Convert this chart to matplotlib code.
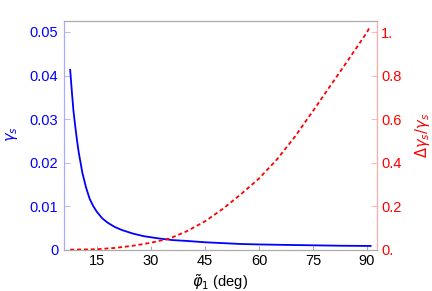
import matplotlib
matplotlib.use("Agg")
import matplotlib.pyplot as plt

plt.rcParams['font.family'] = ['Liberation Sans', 'DejaVu Sans']
plt.rcParams['mathtext.fontset'] = 'dejavusans'

# gamma_s vs phi (deg)
phi_gamma = [7.6, 8.1, 8.5, 9.0, 9.5, 10.0, 11.0, 12.0, 13.0, 14.0, 15.0, 16.5,
             18.0, 20.0, 22.0, 25.0, 28.0, 32.0, 36.0, 40.0, 45.0, 50.0, 55.0,
             60.0, 67.0, 75.0, 83.0, 91.0]
gamma_s = [0.0413, 0.0360, 0.0320, 0.0284, 0.0251, 0.0222, 0.0176, 0.0143,
           0.0117, 0.0100, 0.0087, 0.0072, 0.0062, 0.0052, 0.0045, 0.0037,
           0.0031, 0.0026, 0.0022, 0.0020, 0.0017, 0.0015, 0.0013, 0.0012,
           0.0011, 0.0010, 0.0009, 0.00085]

# relative change Delta gamma_s / gamma_s
phi_rel = [7.6, 15.0, 20.0, 25.0, 28.0, 30.0, 35.0, 40.0, 45.0, 50.0, 55.0,
           60.0, 65.0, 70.0, 75.0, 80.0, 85.0, 90.0, 90.8]
rel_change = [0.0, 0.002, 0.008, 0.018, 0.026, 0.032, 0.050, 0.085, 0.130,
              0.188, 0.255, 0.327, 0.415, 0.520, 0.638, 0.758, 0.878, 1.000,
              1.025]

x_ticks = [15, 30, 45, 60, 75, 90]
left_ticks = [0, 0.01, 0.02, 0.03, 0.04, 0.05]
left_labels = ["0", "0.01", "0.02", "0.03", "0.04", "0.05"]
right_ticks = [0, 0.2, 0.4, 0.6, 0.8, 1.0]
right_labels = ["0.", "0.2", "0.4", "0.6", "0.8", "1."]

fig = plt.figure(figsize=(4.32, 2.91), dpi=100)
ax = fig.add_axes([0.148, 0.141, 0.725, 0.788])
ax2 = ax.twinx()

ax.plot(phi_gamma, gamma_s, color='#0000ff', lw=1.3)
ax2.plot(phi_rel, rel_change, color='#ff0000', lw=1.3, linestyle=(0, (2.2, 1.6)))

ax.set_xlim(5.87, 92.8)
ax.set_ylim(-0.00007, 0.0526)
ax2.set_ylim(-0.0014, 1.053)

ax.set_xticks(x_ticks)
ax.set_yticks(left_ticks)
ax.set_yticklabels(left_labels)
ax2.set_yticks(right_ticks)
ax2.set_yticklabels(right_labels)

fs = 10.5
ax.tick_params(axis='x', direction='in', length=3, width=0.6, color='#999999',
               labelsize=fs, labelcolor='black', pad=3)
ax.tick_params(axis='y', direction='in', length=4, width=0.6, color='#aaaaff',
               labelsize=fs, labelcolor='#0000ff', pad=4)
ax2.tick_params(axis='y', direction='in', length=4, width=0.6, color='#ffaaaa',
                labelsize=fs, labelcolor='#ff0000', pad=3)

for a in (ax, ax2):
    a.spines['top'].set_color('#aaaaaa')
    a.spines['bottom'].set_color('#aaaaaa')
    a.spines['left'].set_color('#aaaaff')
    a.spines['right'].set_color('#ffaaaa')
    for s in a.spines.values():
        s.set_linewidth(0.8)

ax.set_xlabel(r'$\tilde{\varphi}_1$ (deg)', fontsize=fs, labelpad=3)
ax.set_ylabel(r'$\gamma_s$', fontsize=fs, color='#0000ff', va='center')
ax.yaxis.set_label_coords(-0.167, 0.506)
ax2.set_ylabel(r'$\Delta\gamma_s/\gamma_s$', fontsize=fs, color='#ff0000',
               rotation=90, va='center')
ax2.yaxis.set_label_coords(1.146, 0.50)

fig.savefig('out.png', dpi=100)
